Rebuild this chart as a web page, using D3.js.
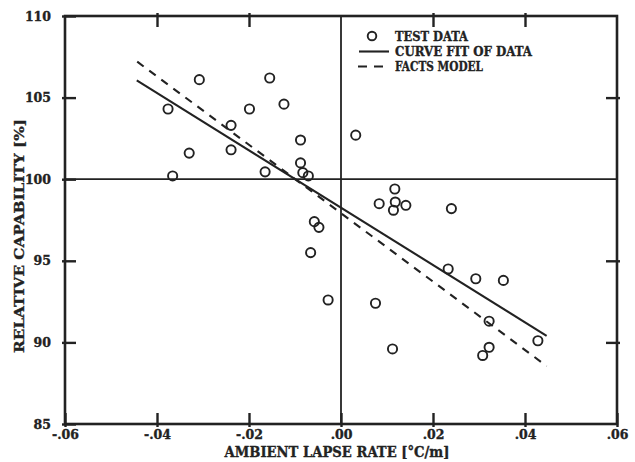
<!DOCTYPE html>
<html>
<head>
<meta charset="utf-8">
<script src="https://cdn.jsdelivr.net/npm/d3@7"></script>
<style>
  body { margin: 0; background: #fff; }
  text { font-family: "DejaVu Serif", "Liberation Serif", serif; font-weight: bold; fill: #222; stroke: #222; stroke-width: 0.35px; }
</style>
</head>
<body>
<div id="chart"></div>
<script>
// axis ticks
const xTicks = [-0.06, -0.04, -0.02, 0, 0.02, 0.04, 0.06]
const xTickLabels = ['-.06', '-.04', '-.02', '.00', '.02', '.04', '.06']
const yTicks = [85, 90, 95, 100, 105, 110]
const yTickLabels = ['85', '90', '95', '100', '105', '110']

// test data
const lapseRate = [
  -0.0376, -0.0366, -0.0330, -0.0308, -0.0239, -0.0239, -0.0199, -0.0165, -0.0155,
  -0.0124, -0.0088, -0.0088, -0.0083, -0.0071, -0.0058, -0.0048, -0.0066, -0.0028,
  0.0032, 0.0117, 0.0083, 0.0118, 0.0114, 0.0141, 0.0240, 0.0233, 0.0293, 0.0353,
  0.0075, 0.0112, 0.0322, 0.0322, 0.0308, 0.0428
]
const capability = [
  104.3, 100.2, 101.6, 106.1, 103.3, 101.8, 104.3, 100.45, 106.2,
  104.6, 102.4, 101.0, 100.4, 100.2, 97.4, 97.05, 95.5, 92.6,
  102.7, 99.4, 98.5, 98.6, 98.1, 98.4, 98.2, 94.5, 93.9, 93.8,
  92.4, 89.6, 91.3, 89.7, 89.2, 90.1
]

// curve fit and FACTS model lines (end points)
const fitX = [-0.0444, 0.0447]
const fitY = [106.06, 90.4]
const modelX = [-0.0443, 0.0447]
const modelY = [107.2, 88.55]

const legendLabels = ['TEST DATA', 'CURVE FIT OF DATA', 'FACTS MODEL']

const width = 635, height = 462
const margin = {top: 16, right: 18, bottom: 38, left: 65}
const ink = '#222'

const svg = d3.select('#chart').append('svg')
      .attr('width', width)
      .attr('height', height)

const x = d3.scaleLinear()
      .domain([-0.06, 0.06])
      .range([margin.left, width - margin.right])

const y = d3.scaleLinear()
      .domain([85, 110])
      .range([height - margin.bottom, margin.top])

// reference lines at 0 and 100
svg.append('line')
    .attr('x1', x(0)).attr('x2', x(0))
    .attr('y1', y(110)).attr('y2', y(85))
    .attr('stroke', ink).attr('stroke-width', 1.8)

svg.append('line')
    .attr('x1', x(-0.06)).attr('x2', x(0.06))
    .attr('y1', y(100)).attr('y2', y(100))
    .attr('stroke', ink).attr('stroke-width', 1.8)

// frame
svg.append('rect')
    .attr('x', x(-0.06)).attr('y', y(110))
    .attr('width', x(0.06) - x(-0.06))
    .attr('height', y(85) - y(110))
    .attr('fill', 'none')
    .attr('stroke', ink)
    .attr('stroke-width', 2.6)

// axes with inward ticks
const innerX = xTicks.filter(d => d !== 0 && Math.abs(d) < 0.06)
const innerY = yTicks.filter(d => d !== 100 && d > 85 && d < 110)

svg.append('g')
    .attr('transform', `translate(0,${y(85)})`)
    .call(d3.axisBottom(x)
          .tickValues(xTicks)
          .tickSizeInner(-11)
          .tickSizeOuter(0)
          .tickPadding(6)
          .tickFormat((d, i) => xTickLabels[i]))
    .selectAll('.tick line').attr('y1', 3)

svg.append('g')
    .attr('transform', `translate(0,${y(110)})`)
    .call(d3.axisTop(x)
          .tickValues(innerX)
          .tickSizeInner(-11)
          .tickSizeOuter(0)
          .tickFormat(''))
    .selectAll('.tick line').attr('y1', -3)

svg.append('g')
    .attr('transform', `translate(${x(-0.06)},0)`)
    .call(d3.axisLeft(y)
          .tickValues(yTicks)
          .tickSizeInner(-11)
          .tickSizeOuter(0)
          .tickPadding(14)
          .tickFormat((d, i) => yTickLabels[i]))
    .selectAll('.tick line').attr('x1', -3)

svg.append('g')
    .attr('transform', `translate(${x(0.06)},0)`)
    .call(d3.axisRight(y)
          .tickValues(innerY)
          .tickSizeInner(-11)
          .tickSizeOuter(0)
          .tickFormat(''))
    .selectAll('.tick line').attr('x1', 3)

svg.selectAll('.domain').remove()
svg.selectAll('.tick line').attr('stroke', ink).attr('stroke-width', 2.4)
svg.selectAll('.tick text')
    .attr('fill', ink)
    .style('font-family', '"DejaVu Serif", serif')
    .style('font-weight', 'bold')
    .style('font-size', '12.5px')

// fit lines
const line = d3.line().x(d => x(d[0])).y(d => y(d[1]))

svg.append('path')
    .datum(d3.zip(fitX, fitY))
    .attr('d', line)
    .attr('fill', 'none')
    .attr('stroke', ink)
    .attr('stroke-width', 2.1)

svg.append('path')
    .datum(d3.zip(modelX, modelY))
    .attr('d', line)
    .attr('fill', 'none')
    .attr('stroke', ink)
    .attr('stroke-width', 2.1)
    .attr('stroke-dasharray', '8,7')

// test data points
svg.append('g').selectAll('circle')
    .data(d3.zip(lapseRate, capability))
    .enter().append('circle')
    .attr('cx', d => x(d[0]))
    .attr('cy', d => y(d[1]))
    .attr('r', 4.6)
    .attr('fill', 'none')
    .attr('stroke', ink)
    .attr('stroke-width', 1.9)

// legend
const legend = svg.append('g')
legend.append('circle')
    .attr('cx', 372).attr('cy', 36).attr('r', 4.3)
    .attr('fill', 'none').attr('stroke', ink).attr('stroke-width', 1.9)
legend.append('line')
    .attr('x1', 359).attr('x2', 389).attr('y1', 51.5).attr('y2', 51.5)
    .attr('stroke', ink).attr('stroke-width', 2.1)
legend.append('line')
    .attr('x1', 358).attr('x2', 384).attr('y1', 66.5).attr('y2', 66.5)
    .attr('stroke', ink).attr('stroke-width', 2.1)
    .attr('stroke-dasharray', '9,7')

const legendLen = [73, 137, 88]
legend.selectAll('text.leg')
    .data(legendLabels)
    .enter().append('text')
    .attr('class', 'leg')
    .attr('x', 395)
    .attr('y', (d, i) => 41 + i * 15)
    .attr('font-size', 12.5)
    .attr('textLength', (d, i) => legendLen[i])
    .attr('lengthAdjust', 'spacingAndGlyphs')
    .text(d => d)

// axis titles
svg.append('text')
    .attr('x', 337)
    .attr('y', 457)
    .attr('text-anchor', 'middle')
    .attr('font-size', 14)
    .attr('textLength', 225)
    .attr('lengthAdjust', 'spacingAndGlyphs')
    .text('AMBIENT LAPSE RATE [°C/m]')

svg.append('text')
    .attr('transform', 'translate(24,236) rotate(-90)')
    .attr('text-anchor', 'middle')
    .attr('font-size', 12.5)
    .attr('textLength', 234)
    .attr('lengthAdjust', 'spacingAndGlyphs')
    .text('RELATIVE CAPABILITY [%]')
</script>
</body>
</html>
